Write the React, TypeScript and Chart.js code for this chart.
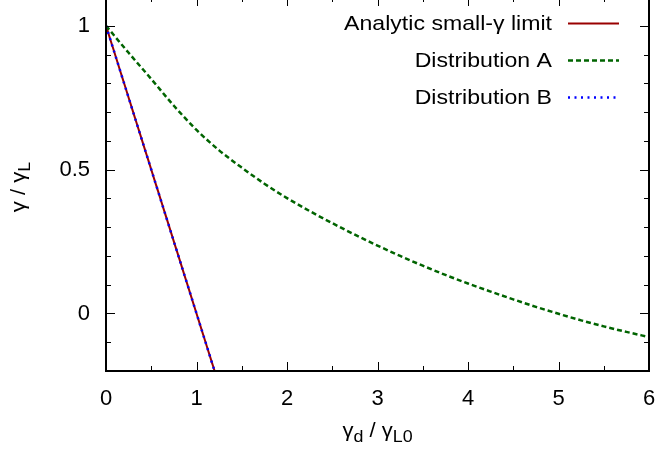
import React, { useEffect, useRef } from 'react';
import { Chart, registerables } from 'chart.js';

Chart.register(...registerables);

// ---- axis ranges and ticks ----
const X_MIN = 0;
const X_MAX = 6;
const Y_MIN = -0.2;
const Y_MAX = 1.1;
const xMajorTicks = [0, 1, 2, 3, 4, 5, 6];
const xMinorTicks = [0.5, 1.5, 2.5, 3.5, 4.5, 5.5];
const yMajorTicks = [0, 0.5, 1];
const yMinorTicks = [-0.1, 0.1, 0.2, 0.3, 0.4, 0.6, 0.7, 0.8, 0.9];

// ---- series ----
const analyticX = [0, 0.6, 1.2];
const analyticY = [1, 0.4, -0.2];

const distAX = [0, 0.25, 0.5, 0.75, 1, 1.25, 1.5, 1.75, 2, 2.25, 2.5, 2.75, 3, 3.25, 3.5, 3.75, 4, 4.25, 4.5, 4.75, 5, 5.25, 5.5, 5.75, 6];
const distAY = [1, 0.906, 0.815, 0.722, 0.638, 0.567, 0.507, 0.451, 0.401, 0.356, 0.314, 0.274, 0.236, 0.2, 0.166, 0.134, 0.104, 0.076, 0.049, 0.023, -0.001, -0.024, -0.045, -0.064, -0.082];

const distBX = [0, 0.3, 0.6, 0.9, 1.2];
const distBY = [1, 0.7, 0.4, 0.1, -0.2];

const seriesLabels = ['Analytic small-\u03b3 limit', 'Distribution A', 'Distribution B'];

const FONT = '"Liberation Sans", Arial, Helvetica, sans-serif';

const toPoints = (xs: number[], ys: number[]) => xs.map((x, i) => ({ x, y: ys[i] }));

type Seg = { t: string; sub?: boolean };

function drawRich(ctx: CanvasRenderingContext2D, segs: Seg[], cx: number, baseY: number, mainSize: number, subSize: number, subDrop: number, sx: number) {
  let total = 0;
  const widths = segs.map((s) => {
    ctx.font = `${s.sub ? subSize : mainSize}px ${FONT}`;
    const w = ctx.measureText(s.t).width;
    total += w;
    return w;
  });
  ctx.save();
  ctx.translate(cx, baseY);
  ctx.scale(sx, 1);
  let x = -total / 2;
  ctx.textAlign = 'left';
  ctx.textBaseline = 'alphabetic';
  segs.forEach((s, i) => {
    ctx.font = `${s.sub ? subSize : mainSize}px ${FONT}`;
    ctx.fillText(s.t, x, s.sub ? subDrop : 0);
    x += widths[i];
  });
  ctx.restore();
}

const decorPlugin = {
  id: 'decor',
  afterDatasetsDraw(chart: any) {
    const { ctx, chartArea: ca, scales } = chart;
    const xs = scales.x;
    const ys = scales.y;
    ctx.save();
    ctx.strokeStyle = '#000';
    ctx.fillStyle = '#000';
    ctx.lineWidth = 1;
    const seg = (x1: number, y1: number, x2: number, y2: number) => {
      ctx.beginPath();
      ctx.moveTo(x1, y1);
      ctx.lineTo(x2, y2);
      ctx.stroke();
    };
    const xTick = (v: number, len: number) => {
      const px = Math.round(xs.getPixelForValue(v)) + 0.5;
      seg(px, ca.bottom, px, ca.bottom - len);
      seg(px, ca.top, px, ca.top + len);
    };
    const yTick = (v: number, len: number) => {
      const py = Math.round(ys.getPixelForValue(v)) + 0.5;
      seg(ca.left, py, ca.left + len, py);
      seg(ca.right, py, ca.right - len, py);
    };
    xMajorTicks.forEach((v) => xTick(v, 9));
    xMinorTicks.forEach((v) => xTick(v, 5));
    yMajorTicks.forEach((v) => yTick(v, 9));
    yMinorTicks.forEach((v) => yTick(v, 5));

    ctx.lineWidth = 2;
    ctx.strokeRect(ca.left, ca.top, ca.right - ca.left, ca.bottom - ca.top);

    // legend
    const rowsY = [43.5, 80.5, 117.5];
    const textRight = 552;
    const sampleX0 = 568;
    const sampleX1 = 619;
    chart.data.datasets.forEach((ds: any, i: number) => {
      const y = rowsY[i];
      ctx.save();
      ctx.font = `21px ${FONT}`;
      ctx.textAlign = 'right';
      ctx.textBaseline = 'middle';
      ctx.translate(textRight, y);
      ctx.scale(1.1, 1);
      ctx.fillStyle = '#000';
      ctx.fillText(ds.label, 0, 1);
      ctx.restore();
      ctx.save();
      ctx.strokeStyle = ds.borderColor;
      ctx.lineWidth = ds.borderWidth;
      ctx.setLineDash(ds.borderDash || []);
      ctx.beginPath();
      ctx.moveTo(sampleX0, y);
      ctx.lineTo(sampleX1, y);
      ctx.stroke();
      ctx.restore();
    });

    // axis titles
    const cx = (ca.left + ca.right) / 2;
    drawRich(ctx, [{ t: '\u03b3' }, { t: 'd', sub: true }, { t: ' / \u03b3' }, { t: 'L0', sub: true }], cx, 457, 21, 17, 5, 1.05);

    const cy = (ca.top + ca.bottom) / 2 + 3;
    ctx.save();
    ctx.translate(25, cy);
    ctx.rotate(-Math.PI / 2);
    drawRich(ctx, [{ t: '\u03b3 / \u03b3' }, { t: 'L', sub: true }], 0, 0, 21, 17, 5, 1.05);
    ctx.restore();

    ctx.restore();
  },
};

const zeroPad = (s: any) => {
  s.paddingTop = 0;
  s.paddingBottom = 0;
  s.paddingLeft = 0;
  s.paddingRight = 0;
};

export default function App() {
  const ref = useRef<HTMLCanvasElement | null>(null);
  useEffect(() => {
    if (!ref.current) return;
    const chart = new Chart(ref.current, {
      type: 'scatter',
      data: {
        datasets: [
          {
            label: seriesLabels[0],
            data: toPoints(analyticX, analyticY),
            showLine: true,
            borderColor: '#990000',
            backgroundColor: '#990000',
            borderWidth: 2,
            pointRadius: 0,
            order: 2,
          },
          {
            label: seriesLabels[1],
            data: toPoints(distAX, distAY),
            showLine: true,
            borderColor: '#006400',
            backgroundColor: '#006400',
            borderWidth: 2.5,
            borderDash: [5, 3],
            pointRadius: 0,
            cubicInterpolationMode: 'monotone',
            order: 1,
          },
          {
            label: seriesLabels[2],
            data: toPoints(distBX, distBY),
            showLine: true,
            borderColor: '#0000ff',
            backgroundColor: '#0000ff',
            borderWidth: 2.5,
            borderDash: [2, 4.5],
            pointRadius: 0,
            order: 0,
          },
        ],
      },
      options: {
        responsive: false,
        animation: false,
        devicePixelRatio: 1,
        layout: { padding: { left: 0, right: 10, top: 17, bottom: 0 } },
        plugins: { legend: { display: false }, tooltip: { enabled: false } },
        events: [],
        scales: {
          x: {
            type: 'linear',
            min: X_MIN,
            max: X_MAX,
            grid: { display: false, drawTicks: false },
            border: { display: false },
            afterBuildTicks: (s: any) => {
              s.ticks = xMajorTicks.map((v) => ({ value: v }));
            },
            afterFit: (s: any) => {
              s.height = 83;
              zeroPad(s);
            },
            ticks: {
              padding: 15,
              color: '#000',
              font: { family: FONT, size: 22 },
              maxRotation: 0,
              autoSkip: false,
              callback: (v: any) => String(v),
            },
          },
          y: {
            type: 'linear',
            min: Y_MIN,
            max: Y_MAX,
            grid: { display: false, drawTicks: false },
            border: { display: false },
            afterBuildTicks: (s: any) => {
              s.ticks = yMajorTicks.map((v) => ({ value: v }));
            },
            afterFit: (s: any) => {
              s.width = 106;
              zeroPad(s);
            },
            ticks: {
              padding: 16,
              color: '#000',
              font: { family: FONT, size: 22 },
              autoSkip: false,
              callback: (v: any) => String(v),
            },
          },
        },
      },
      plugins: [decorPlugin],
    } as any);
    return () => chart.destroy();
  }, []);
  return (
    <div style={{ position: 'fixed', left: 0, top: -20, width: 659, height: 474, background: '#fff' }}>
      <canvas ref={ref} width={659} height={474} style={{ display: 'block', width: 659, height: 474 }} />
    </div>
  );
}
